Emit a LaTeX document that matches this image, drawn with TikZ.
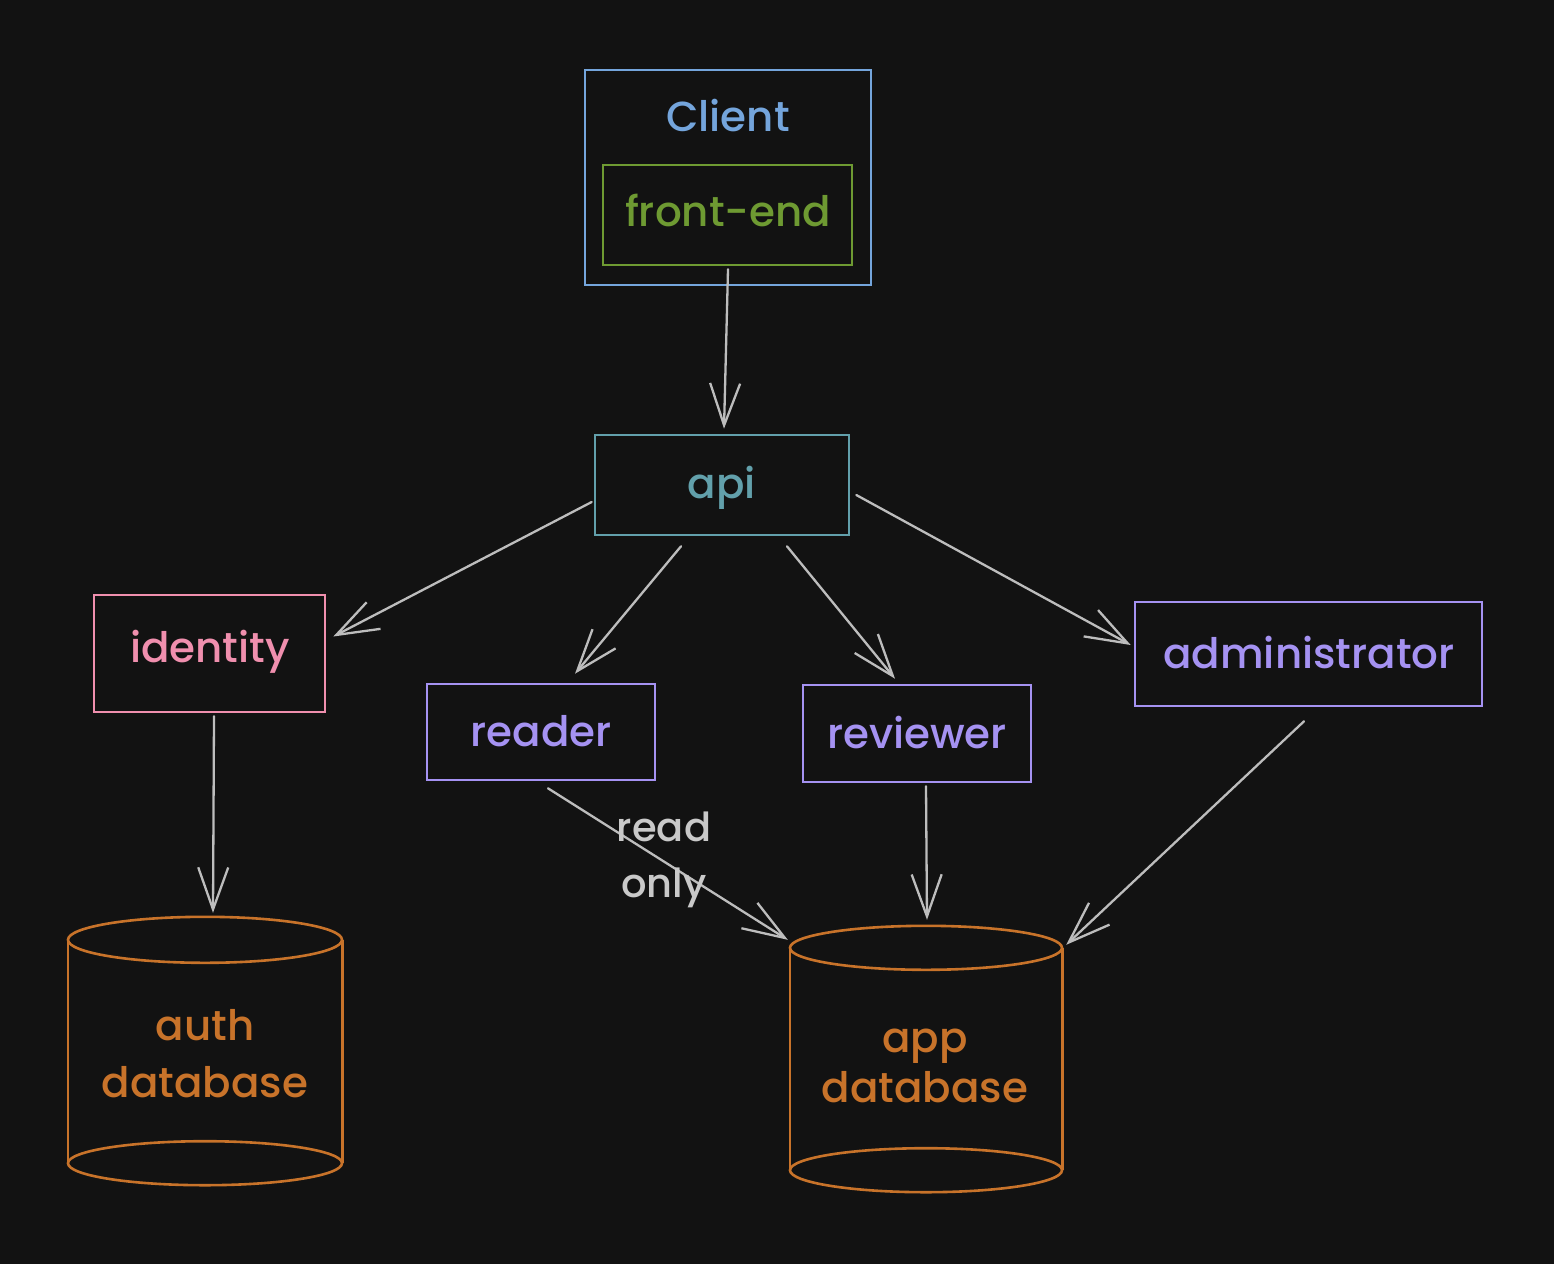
\documentclass[tikz,border=0pt]{standalone}
\usepackage{fontspec}
\setmainfont{Poppins}[UprightFont=* Medium]
\usetikzlibrary{arrows.meta,calc}

\definecolor{bg}{HTML}{121212}
\definecolor{cblue}{HTML}{74A5DC}
\definecolor{cgreen}{HTML}{6E9A32}
\definecolor{cteal}{HTML}{62A0AB}
\definecolor{cpink}{HTML}{F08FAE}
\definecolor{cpurple}{HTML}{A592F2}
\definecolor{corange}{HTML}{C8732A}
\definecolor{cgray}{HTML}{BDBDBD}
\definecolor{clabel}{HTML}{C9C9C9}

\begin{document}
\begin{tikzpicture}[x=1pt,y=-1pt,
  box/.style={rectangle, draw=#1, line width=2.6pt, inner sep=0pt},
  txt/.style={text=#1, font=\fontsize{42}{50}\selectfont, inner sep=0pt},
  arr/.style={draw=cgray, line width=2.3pt, line cap=round,
    -{Straight Barb[length=42pt,width=30pt,line width=2.3pt]}},
  dbline/.style={draw=corange, line width=2.6pt},
  dbshape/.style={rectangle, draw=none, inner sep=0pt}
]
\fill[bg] (0,0) rectangle (1554,1264);
\useasboundingbox (0,0) rectangle (1554,1264);

% boxes
\node[box=cblue, minimum width=286pt, minimum height=215pt] (client) at (728,177.5) {};
\node[txt=cblue] (clientlbl) at (728,116) {Client};
\node[box=cgreen, minimum width=249pt, minimum height=100pt] (frontend) at (727.5,215) {};
\node[txt=cgreen] (frontendlbl) at (728,210) {front-end};

\node[box=cteal, minimum width=254pt, minimum height=100pt] (api) at (722,485) {};
\node[txt=cteal] (apilbl) at (722,488) {api};

\node[box=cpink, minimum width=231pt, minimum height=117pt] (identity) at (209.5,653.5) {};
\node[txt=cpink] (identitylbl) at (210,652) {identity};

\node[box=cpurple, minimum width=228pt, minimum height=96pt] (reader) at (541,732) {};
\node[txt=cpurple] (readerlbl) at (541,731) {reader};

\node[box=cpurple, minimum width=228pt, minimum height=97pt] (reviewer) at (917,733.5) {};
\node[txt=cpurple] (reviewerlbl) at (917,733) {reviewer};

\node[box=cpurple, minimum width=347pt, minimum height=104pt] (admin) at (1308.5,654) {};
\node[txt=cpurple] (adminlbl) at (1309,653) {administrator};

% databases: top and bottom ellipses joined by vertical sides
\node[dbshape, minimum width=274pt, minimum height=268pt] (authdb) at (205,1051) {};
\draw[dbline] ($(authdb.north)+(0,23)$) ellipse [x radius=137pt, y radius=23pt];
\draw[dbline] ($(authdb.south)+(0,-22)$) ellipse [x radius=137pt, y radius=22pt];
\draw[dbline] ($(authdb.north west)+(0,23)$) -- ($(authdb.south west)+(0,-22)$);
\draw[dbline] ($(authdb.north east)+(0,23)$) -- ($(authdb.south east)+(0,-22)$);
\node[txt=corange, align=center, font=\fontsize{42}{57}\selectfont] (authlbl) at (205,1054) {auth\\database};

\node[dbshape, minimum width=272pt, minimum height=266pt] (appdb) at (926,1059) {};
\draw[dbline] ($(appdb.north)+(0,22)$) ellipse [x radius=136pt, y radius=22pt];
\draw[dbline] ($(appdb.south)+(0,-22)$) ellipse [x radius=136pt, y radius=22pt];
\draw[dbline] ($(appdb.north west)+(0,22)$) -- ($(appdb.south west)+(0,-22)$);
\draw[dbline] ($(appdb.north east)+(0,22)$) -- ($(appdb.south east)+(0,-22)$);
\node[txt=corange, align=center, font=\fontsize{42}{50}\selectfont] (applbl) at (925,1066) {app\\database};

% connectors
\draw[arr] ($(frontend.south)+(0.5,3)$) -- ($(api.north)+(2,-5)$);
\draw[arr] ($(api.west)+(-2,17)$) -- ($(identity.east)+(7,-17)$);
\draw[arr] ($(api.south)+(-41,10)$) -- ($(reader.north)+(34,-9)$);
\draw[arr] ($(api.south)+(65,10)$) -- ($(reviewer.north)+(-22,-5)$);
\draw[arr] ($(api.east)+(6,10)$) -- ($(admin.west)+(-3,-9)$);
\draw[arr] ($(identity.south)+(4.5,3)$) -- ($(authdb.north)+(8,-4)$);
\draw[arr] ($(reader.south)+(7,7)$) -- ($(appdb.north west)+(-2,14)$);
\draw[arr] ($(reviewer.south)+(9,3)$) -- ($(appdb.north)+(1,-6)$);
\draw[arr] ($(admin.south)+(-4.5,14)$) -- ($(appdb.north east)+(4,19)$);

\node[txt=clabel, align=center, font=\fontsize{40}{56}\selectfont] (readonly) at (664,860) {read\\only};
\end{tikzpicture}
\end{document}
